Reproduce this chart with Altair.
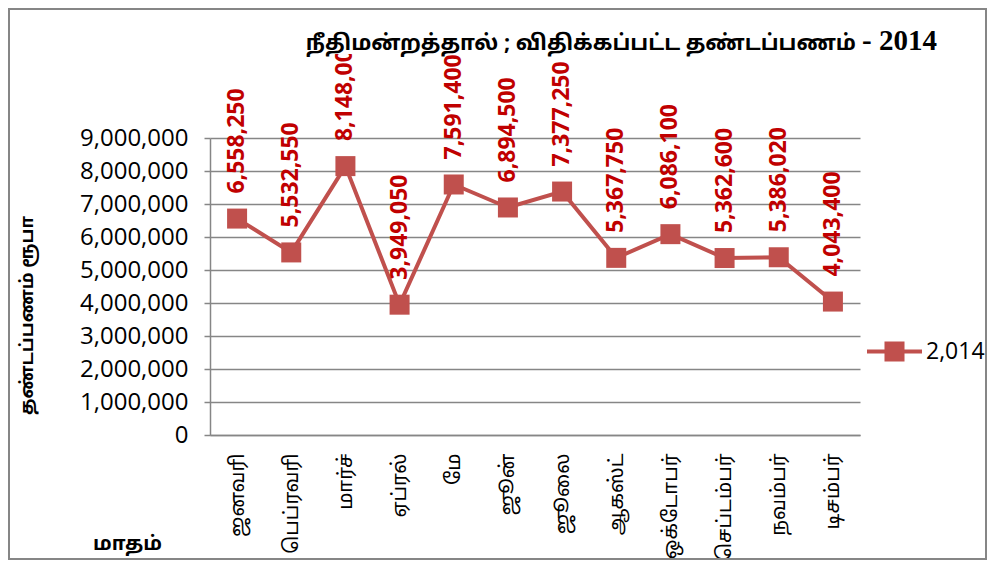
import altair as alt
import pandas as pd

months = ["ஜனவரி", "பெப்ரவரி", "மார்ச்", "ஏப்ரல்", "மே", "ஜூன்", "ஜூலை",
          "ஆகஸ்ட்", "ஒக்டோபர்", "செப்டம்பர்", "நவம்பர்", "டிசம்பர்"]
values = [6558250, 5532550, 8148000, 3949050, 7591400, 6894500, 7377250,
          5367750, 6086100, 5362600, 5386020, 4043400]
series = ["2,014"] * len(months)
y_ticks = [0, 1000000, 2000000, 3000000, 4000000, 5000000, 6000000,
           7000000, 8000000, 9000000]

title_main = "நீதிமன்றத்தால்  ; விதிக்கப்பட்ட  தண்டப்பணம்"
title_year = "- 2014"
y_title = "தண்டப்பணம் ரூபா"
x_title = "மாதம்"

df = pd.DataFrame({"month": months, "value": values, "series": series})

TAMIL = "Noto Sans Tamil, Lohit Tamil, Latha, Noto Sans, sans-serif"
NUM = "Open Sans, Noto Sans, sans-serif"
SERIF = "Liberation Serif, DejaVu Serif, serif"
LINE = "#C0504D"
LABEL = "#C00000"
GRID = "#868686"

x_enc = alt.X("month:N", sort=months, scale=alt.Scale(type="point", padding=0.5),
              axis=alt.Axis(title=x_title, labelAngle=270, ticks=False,
                            labelPadding=18, labelFont=TAMIL, labelFontSize=20,
                            labelColor="#000000", domainColor=GRID, domainWidth=1.5,
                            titleFont=TAMIL, titleFontSize=20, titleFontWeight="bold",
                            titleX=-83, titleY=108, titleAlign="center",
                            titleBaseline="middle", titleAngle=0))
y_enc = alt.Y("value:Q", scale=alt.Scale(domain=[0, 9000000], nice=False),
              axis=alt.Axis(title=y_title, values=y_ticks, format=",d",
                            labelFont=NUM, labelFontSize=24, labelColor="#000000",
                            labelPadding=16, tickSize=6, tickColor=GRID, tickWidth=1.5,
                            domainColor=GRID, domainWidth=1.5,
                            grid=True, gridColor=GRID, gridWidth=1.5,
                            titleFont=TAMIL, titleFontSize=18, titleFontWeight="bold",
                            titleX=-183, titleY=177, titleAngle=270,
                            titleAlign="center", titleBaseline="middle"))

base = alt.Chart(df)
one = alt.Data(values=[{"k": 1}])

border = alt.Chart(one).mark_rect(
    fillOpacity=0, stroke=GRID, strokeWidth=2
).encode(x=alt.value(-201), x2=alt.value(776), y=alt.value(-129), y2=alt.value(421))

line = base.mark_line(color=LINE, strokeWidth=4).encode(x=x_enc, y=y_enc)

legend_path = ("M-1,-0.0727H1V0.0727H-1Z"
               "M-0.364,-0.364H0.364V0.364H-0.364Z")

points = base.mark_point(shape="square", filled=True, size=400, opacity=1).encode(
    x=x_enc, y=y_enc,
    color=alt.Color("series:N", scale=alt.Scale(domain=["2,014"], range=[LINE]),
                    legend=alt.Legend(title=None, orient="none", legendX=657, legendY=186,
                                      symbolType=legend_path, symbolSize=3025,
                                      symbolStrokeWidth=0, labelFont=NUM,
                                      labelFontSize=23, labelColor="#000000",
                                      labelOffset=4))
)

labels = base.mark_text(angle=270, align="left", baseline="middle", dx=25,
                        font=NUM, fontSize=23, fontWeight="bold", color=LABEL).encode(
    x=x_enc, y=y_enc, text=alt.Text("value:Q", format=",d")
)

title_box = alt.Chart(one).mark_rect(fill="white").encode(
    x=alt.value(90), x2=alt.value(735), y=alt.value(-123), y2=alt.value(-84))

title1 = alt.Chart(one).mark_text(
    text=title_main, font=TAMIL, fontSize=21.5, fontWeight="bold", color="#000000",
    align="right", baseline="alphabetic"
).encode(x=alt.value(646), y=alt.value(-88))

title2 = alt.Chart(one).mark_text(
    text=title_year, font=SERIF, fontSize=29, fontWeight="bold", color="#000000",
    align="left", baseline="alphabetic"
).encode(x=alt.value(652), y=alt.value(-88))

chart = alt.layer(border, line, points, labels, title_box, title1, title2).properties(
    width=650, height=297,
    autosize=alt.AutoSizeParams(type="none"),
    padding={"left": 202, "top": 130, "right": 127, "bottom": 125},
).configure_view(strokeWidth=0)

chart.save("out.html", embed_options={"renderer": "svg", "actions": False})
